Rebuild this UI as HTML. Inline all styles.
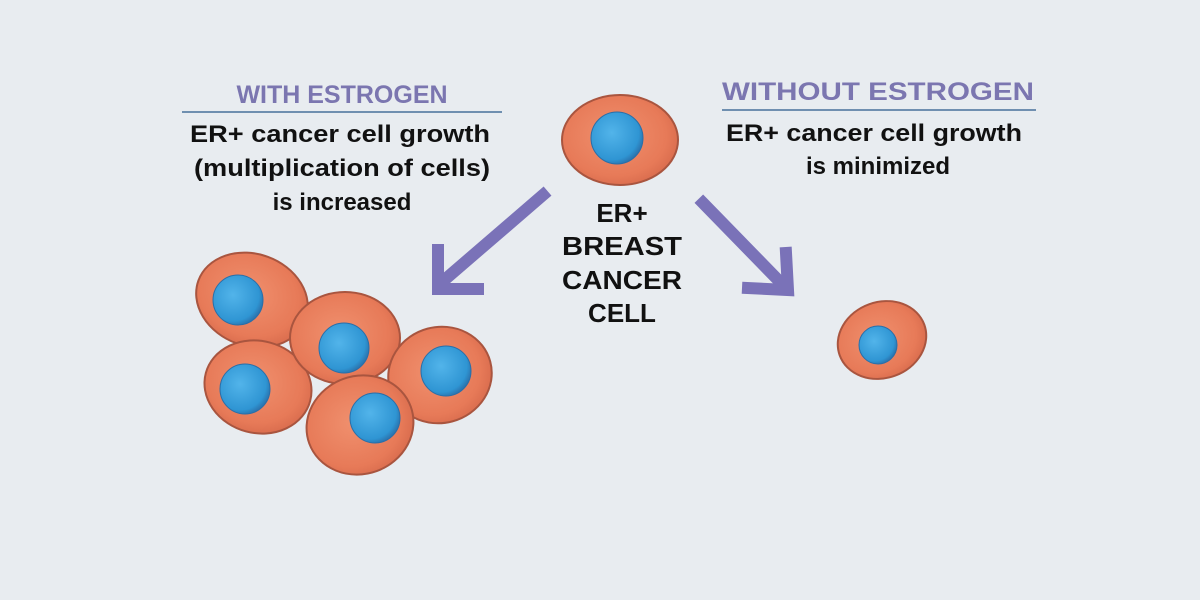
<!DOCTYPE html>
<html><head><meta charset="utf-8"><style>
html,body{margin:0;padding:0;background:#e8ecf0;}
svg{display:block}
text{font-family:"Liberation Sans",sans-serif;font-weight:bold;text-anchor:middle}
</style></head><body>
<svg width="1200" height="600" viewBox="0 0 1200 600">
<defs>
<radialGradient id="c" cx="45%" cy="45%" r="60%">
<stop offset="0" stop-color="#f0906e"/><stop offset="0.75" stop-color="#e77a58"/><stop offset="1" stop-color="#d76a4c"/>
</radialGradient>
<radialGradient id="n" cx="40%" cy="40%" r="65%">
<stop offset="0" stop-color="#52b4ea"/><stop offset="0.8" stop-color="#2f95d3"/><stop offset="1" stop-color="#2a6ea8"/>
</radialGradient>
</defs>
<rect width="1200" height="600" fill="#e8ecf0"/>
<text x="342" y="103" font-size="25" fill="#7b76b0">WITH ESTROGEN</text>
<line x1="182" y1="112" x2="502" y2="112" stroke="#6f8fb0" stroke-width="2"/>
<text x="340" y="142" font-size="24" fill="#111" textLength="300" lengthAdjust="spacingAndGlyphs">ER+ cancer cell growth</text>
<text x="342" y="176" font-size="24" fill="#111" textLength="296" lengthAdjust="spacingAndGlyphs">(multiplication of cells)</text>
<text x="342" y="210" font-size="24" fill="#111">is increased</text>

<text x="878" y="100" font-size="25" fill="#7b76b0" textLength="312" lengthAdjust="spacingAndGlyphs">WITHOUT ESTROGEN</text>
<line x1="722" y1="110" x2="1036" y2="110" stroke="#6f8fb0" stroke-width="2"/>
<text x="874" y="141" font-size="24" fill="#111" textLength="296" lengthAdjust="spacingAndGlyphs">ER+ cancer cell growth</text>
<text x="878" y="174" font-size="24" fill="#111">is minimized</text>

<text x="622" y="222" font-size="26" fill="#111">ER+</text>
<text x="622" y="255" font-size="26" fill="#111" textLength="120" lengthAdjust="spacingAndGlyphs">BREAST</text>
<text x="622" y="289" font-size="26" fill="#111" textLength="120" lengthAdjust="spacingAndGlyphs">CANCER</text>
<text x="622" y="322" font-size="26" fill="#111">CELL</text>

<g stroke="#7a72b8" stroke-width="12" fill="none" stroke-linecap="square">
<line x1="543" y1="195" x2="442" y2="282"/>
<polyline points="438,250 438,289 478,289"/>
<line x1="703" y1="203" x2="782" y2="284"/>
<polyline points="786,253 788,290 748,288"/>
</g>

<g stroke="#a9553f" stroke-width="2">
<ellipse cx="620" cy="140" rx="58" ry="45" fill="url(#c)"/>
<circle cx="617" cy="138" r="26" fill="url(#n)" stroke="#2a6ea8" stroke-width="1"/>

<ellipse cx="882" cy="340" rx="45" ry="38" transform="rotate(-20 882 340)" fill="url(#c)"/>
<circle cx="878" cy="345" r="19" fill="url(#n)" stroke="#2a6ea8" stroke-width="1"/>

<ellipse cx="252" cy="300" rx="57" ry="46" transform="rotate(20 252 300)" fill="url(#c)"/>
<circle cx="238" cy="300" r="25" fill="url(#n)" stroke="#2a6ea8" stroke-width="1"/>
<ellipse cx="258" cy="387" rx="54" ry="46" transform="rotate(15 258 387)" fill="url(#c)"/>
<circle cx="245" cy="389" r="25" fill="url(#n)" stroke="#2a6ea8" stroke-width="1"/>
<ellipse cx="345" cy="338" rx="55" ry="46" fill="url(#c)"/>
<circle cx="344" cy="348" r="25" fill="url(#n)" stroke="#2a6ea8" stroke-width="1"/>
<ellipse cx="440" cy="375" rx="52" ry="48" transform="rotate(-15 440 375)" fill="url(#c)"/>
<circle cx="446" cy="371" r="25" fill="url(#n)" stroke="#2a6ea8" stroke-width="1"/>
<ellipse cx="360" cy="425" rx="54" ry="49" transform="rotate(-20 360 425)" fill="url(#c)"/>
<circle cx="375" cy="418" r="25" fill="url(#n)" stroke="#2a6ea8" stroke-width="1"/>
</g>
</svg>
</body></html>
